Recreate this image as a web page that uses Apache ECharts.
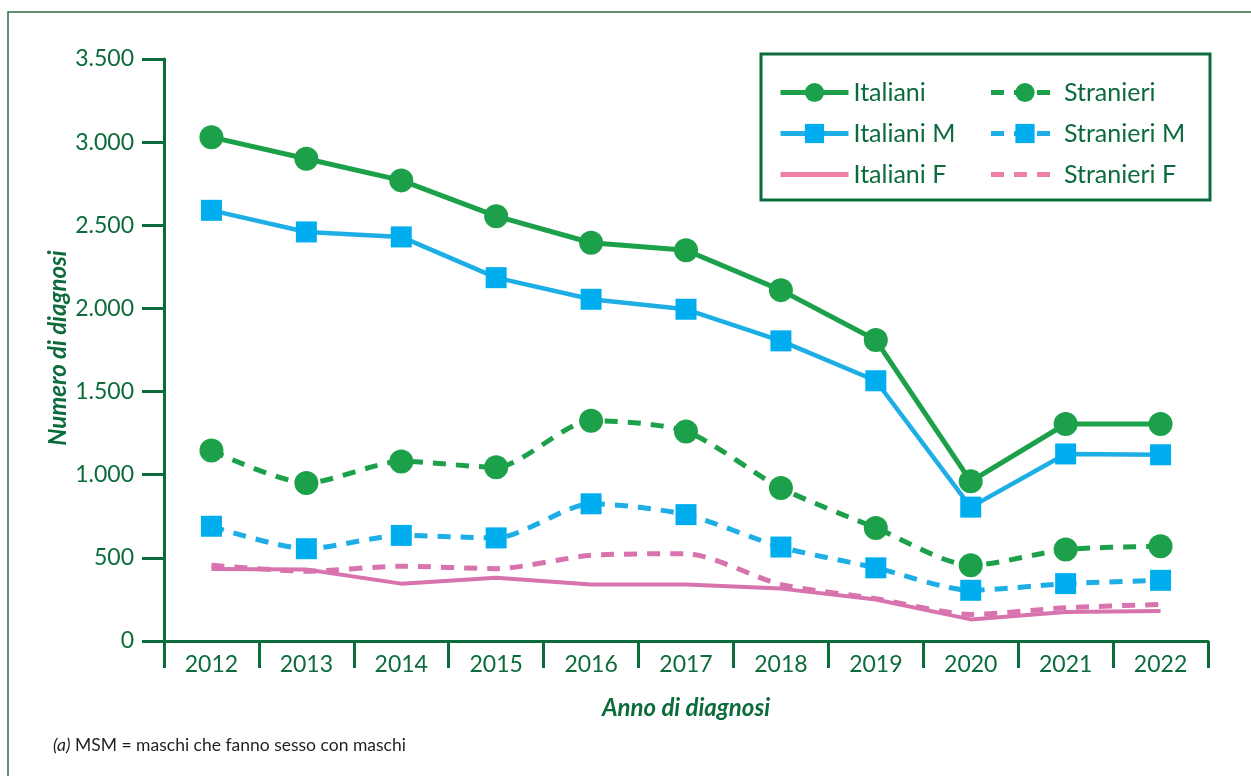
<!DOCTYPE html>
<html>
<head>
<meta charset="utf-8">
<script src="https://cdn.jsdelivr.net/npm/echarts@6/dist/echarts.min.js"></script>
<style>
  html, body { margin: 0; padding: 0; background: #fff; }
  #myChart { width: 1251px; height: 776px; }
</style>
</head>
<body>
<div id="myChart"></div>
<script>
// dati
var anni = ['2012', '2013', '2014', '2015', '2016', '2017', '2018', '2019', '2020', '2021', '2022'];
var italiani   = [3030, 2900, 2770, 2555, 2395, 2350, 2110, 1810, 960, 1305, 1305];
var stranieri  = [1145, 950, 1080, 1045, 1325, 1260, 920, 680, 455, 550, 570];
var italianiM  = [2590, 2460, 2430, 2185, 2055, 1995, 1805, 1565, 805, 1125, 1120];
var stranieriM = [690, 555, 635, 620, 825, 760, 565, 440, 305, 345, 365];
var italianiF  = [433, 430, 345, 380, 340, 340, 315, 250, 130, 175, 180];
var stranieriF = [455, 420, 450, 435, 515, 525, 340, 255, 160, 200, 220];

var verdeScuro = '#0b6b3a';
var verde = '#1ca14a';
var blu = '#00aeef';
var bluLinea = '#1eaee6';
var rosa = '#d873ae';
var rosaLegenda = '#ee7fa6';
var font = 'Lato';

function migliaia(v) {
    return String(v).replace(/\B(?=(\d{3})+(?!\d))/g, '.');
}

var myChart = echarts.init(document.getElementById('myChart'));

myChart.setOption({
    animation: false,
    textStyle: { fontFamily: font },
    grid: {
        left: 164,
        right: 43,
        top: 59,
        bottom: 135
    },
    legend: {
        left: 761,
        top: 54,
        width: 420,
        padding: [23, 21, 10, 17],
        borderColor: verdeScuro,
        borderWidth: 3,
        itemWidth: 68,
        itemHeight: 24,
        itemGap: 10,
        lineStyle: { width: 5 },
        textStyle: {
            color: verdeScuro,
            fontSize: 25,
            fontFamily: font,
            width: 125,
            lineHeight: 31
        },
        data: [
            'Italiani',
            'Stranieri',
            'Italiani M',
            'Stranieri M',
            { name: 'Italiani F', itemStyle: { opacity: 0 }, lineStyle: { color: rosaLegenda } },
            { name: 'Stranieri F', itemStyle: { opacity: 0 }, lineStyle: { color: rosaLegenda } }
        ]
    },
    xAxis: {
        type: 'category',
        data: anni,
        boundaryGap: true,
        axisLine: { lineStyle: { color: verdeScuro, width: 3 } },
        axisTick: { show: true, length: 27, lineStyle: { color: verdeScuro, width: 3 } },
        axisLabel: { color: verdeScuro, fontSize: 23, margin: 12, fontFamily: font },
        splitLine: { show: false }
    },
    yAxis: {
        type: 'value',
        min: 0,
        max: 3500,
        interval: 500,
        axisLine: { show: true, lineStyle: { color: verdeScuro, width: 3 } },
        axisTick: { show: true, length: 22, lineStyle: { color: verdeScuro, width: 3 } },
        axisLabel: { color: verdeScuro, fontSize: 23, margin: 30, fontFamily: font, formatter: migliaia },
        splitLine: { show: false }
    },
    graphic: [
        {
            type: 'rect',
            shape: { x: 8, y: 12, width: 1400, height: 900 },
            style: { fill: 'none', stroke: '#2e6b40', lineWidth: 1.5 },
            silent: true
        },
        {
            type: 'text',
            x: 58,
            y: 348,
            rotation: Math.PI / 2,
            style: {
                text: 'Numero di diagnosi',
                fill: verdeScuro,
                font: 'italic bold 24px ' + font,
                textAlign: 'center',
                textVerticalAlign: 'middle'
            }
        },
        {
            type: 'text',
            x: 686,
            y: 708,
            style: {
                text: 'Anno di diagnosi',
                fill: verdeScuro,
                font: 'italic bold 24px ' + font,
                textAlign: 'center',
                textVerticalAlign: 'middle'
            }
        },
        {
            type: 'text',
            x: 53,
            y: 745,
            style: {
                text: '{a|(a)} MSM = maschi che fanno sesso con maschi',
                fill: '#231f20',
                font: '17.5px ' + font,
                textVerticalAlign: 'middle',
                rich: {
                    a: { fontStyle: 'italic', color: verdeScuro, fontSize: 17.5, fontFamily: font }
                }
            }
        }
    ],
    series: [
        {
            name: 'Italiani F',
            type: 'line',
            data: italianiF,
            symbol: 'none',
            z: 1,
            lineStyle: { color: rosa, width: 4 },
            itemStyle: { color: rosa }
        },
        {
            name: 'Stranieri F',
            type: 'line',
            data: stranieriF,
            symbol: 'none',
            smooth: 0.25,
            z: 1,
            lineStyle: { color: rosa, width: 5, type: [13, 10] },
            itemStyle: { color: rosa }
        },
        {
            name: 'Stranieri M',
            type: 'line',
            data: stranieriM,
            symbol: 'rect',
            symbolSize: 21,
            smooth: 0.25,
            z: 2,
            lineStyle: { color: bluLinea, width: 5, type: [13, 10] },
            itemStyle: { color: blu }
        },
        {
            name: 'Stranieri',
            type: 'line',
            data: stranieri,
            symbol: 'circle',
            symbolSize: 24,
            smooth: 0.25,
            z: 2,
            lineStyle: { color: verde, width: 5, type: [13, 10] },
            itemStyle: { color: verde }
        },
        {
            name: 'Italiani M',
            type: 'line',
            data: italianiM,
            symbol: 'rect',
            symbolSize: 21,
            z: 3,
            lineStyle: { color: bluLinea, width: 4.5 },
            itemStyle: { color: blu }
        },
        {
            name: 'Italiani',
            type: 'line',
            data: italiani,
            symbol: 'circle',
            symbolSize: 24,
            z: 3,
            lineStyle: { color: verde, width: 5 },
            itemStyle: { color: verde }
        }
    ]
});
</script>
</body>
</html>
